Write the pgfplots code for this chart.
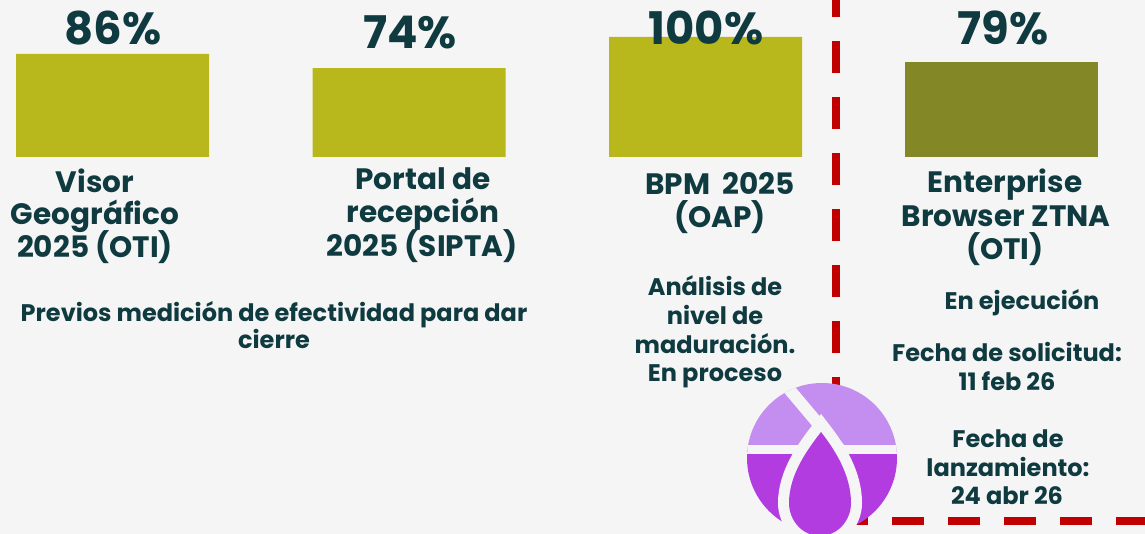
\documentclass[border=0pt]{standalone}
\usepackage{fontspec}
\setmainfont{Poppins}
\usepackage{pgfplots}
\pgfplotsset{compat=1.18}

\definecolor{bg}{RGB}{245,245,245}
\definecolor{barA}{RGB}{184,183,27}
\definecolor{barB}{RGB}{131,135,37}
\definecolor{txt}{RGB}{14,58,64}
\definecolor{sepred}{RGB}{192,0,0}
\definecolor{lp}{RGB}{196,142,240}
\definecolor{dp}{RGB}{178,60,224}

% one line of text, placed on its baseline: x, baseline y (from top), size, text
\newcommand\lbl[4]{\node[anchor=base,text=txt,inner sep=0pt,
  font=\fontsize{#3}{#3}\selectfont\bfseries] at (#1,#2) {#4};}

\begin{document}
\begin{tikzpicture}[x=1pt,y=1pt]
\clip (0,0) rectangle (1145,534);
\fill[bg] (0,0) rectangle (1145,534);

% bars: 1.2px per percent, baseline 157px from the top
\begin{axis}[at={(0,0)},anchor=south west,width=1145pt,height=534pt,scale only axis,
  xmin=0,xmax=1145,ymin=-314.1667,ymax=130.8333,hide axis,clip=false]
\addplot[ybar,bar width=193,bar shift=0pt,fill=barA,draw=none]
  coordinates {(112.5,86) (409,74) (705.5,100)};
\addplot[ybar,bar width=193,bar shift=0pt,fill=barB,draw=none]
  coordinates {(1001.5,79)};
\end{axis}

\begin{scope}[shift={(0,534)},y=-1pt]
% separator
\draw[sepred,line width=8pt,dash pattern=on 32pt off 24pt,dash phase=15pt] (836,0) -- (836,521);
\draw[sepred,line width=8pt,dash pattern=on 32pt off 24pt] (836,521) -- (1145,521);

% values
\lbl{113}{45}{45}{86\%}
\lbl{410}{49}{45}{74\%}
\lbl{706}{45}{45}{100\%}
\lbl{1003}{45}{45}{79\%}

% category names
\lbl{95}{193}{29.5}{Visor}
\lbl{95}{225}{29.5}{Geográfico}
\lbl{95}{258}{29.5}{2025 (OTI)}
\lbl{423}{190}{29.5}{Portal de}
\lbl{423}{223}{29.5}{recepción}
\lbl{422}{257}{29.5}{2025 (SIPTA)}
\lbl{720}{195}{29.5}{BPM\ \ 2025}
\lbl{720}{228}{29.5}{(OAP)}
\lbl{1005}{193}{29.5}{Enterprise}
\lbl{1006}{227}{29.5}{Browser ZTNA}
\lbl{1005}{260}{29.5}{(OTI)}

% notes
\lbl{274}{322}{24}{Previos medición de efectividad para dar}
\lbl{274}{349}{24}{cierre}
\lbl{715}{296}{24}{Análisis de}
\lbl{715}{325}{24}{nivel de}
\lbl{715}{354}{24}{maduración.}
\lbl{715}{382}{24}{En proceso}
\lbl{1022}{310}{24}{En ejecución}
\lbl{1007}{362}{24}{Fecha de solicitud:}
\lbl{1007}{391}{24}{11 feb 26}
\lbl{1008}{448}{24}{Fecha de}
\lbl{1008}{477}{24}{lanzamiento:}
\lbl{1007}{505}{24}{24 abr 26}

% logo
\begin{scope}
\clip (822,458) circle[radius=75];
\fill[lp] (740,370) rectangle (910,450);
\fill[dp] (740,450) rectangle (910,540);
\draw[bg,line width=9pt] (740,450) -- (910,450);
\draw[bg,line width=12pt] (778,376) -- (842,452);
\end{scope}
\draw[bg,line width=22pt] (821,432)
  .. controls (835,450) and (851,475) .. (851,503)
  .. controls (851,521) and (837,536) .. (820,536)
  .. controls (803,536) and (789,521) .. (789,503)
  .. controls (789,475) and (807,450) .. (821,432) -- cycle;
\fill[dp] (821,432)
  .. controls (835,450) and (851,475) .. (851,503)
  .. controls (851,521) and (837,536) .. (820,536)
  .. controls (803,536) and (789,521) .. (789,503)
  .. controls (789,475) and (807,450) .. (821,432) -- cycle;
\end{scope}
\end{tikzpicture}
\end{document}
